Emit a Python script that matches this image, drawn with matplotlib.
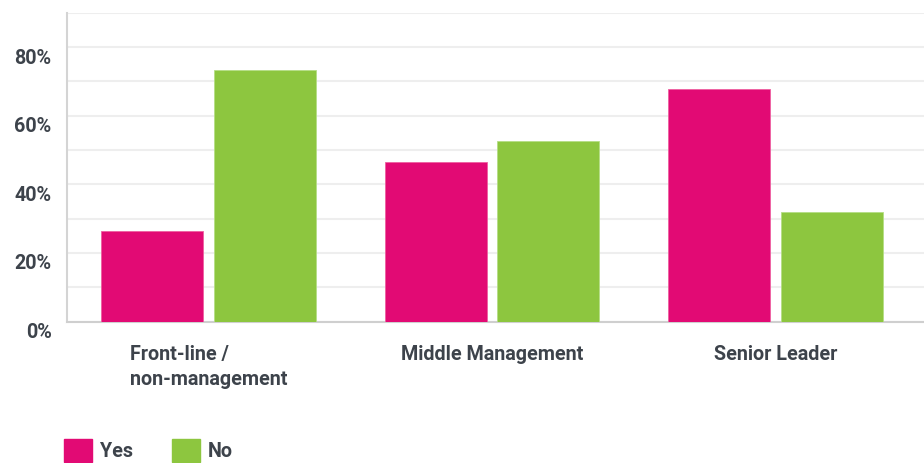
import matplotlib
matplotlib.use("Agg")
from matplotlib import pyplot as plt
from matplotlib.patches import Patch
from matplotlib.transforms import ScaledTranslation
import numpy as np

# survey answers by role (percent)
roles = ["Front-line /\nnon-management", "Middle Management", "Senior Leader"]
yes_pct = [26.3, 46.6, 67.7]
no_pct = [73.2, 52.7, 31.8]
series_names = ["Yes", "No"]
yticks = list(range(0, 91, 10))
ylabels = ["0%", "", "20%", "", "40%", "", "60%", "", "80%", ""]

pink = "#e20a74"
green = "#8dc63f"
textcol = "#3d434b"

plt.rcParams['font.family'] = ['Roboto', 'DejaVu Sans']

fig = plt.figure(figsize=(9.24, 4.63), dpi=100)
ax = fig.add_axes([67/924, (463-321.5)/463, (924-67)/924, (321.5-12.7)/463])

x = np.arange(len(roles))
w = 0.36
off = 0.199
ax.bar(x - off, yes_pct, w, color=pink, edgecolor="#ee5fa0", linewidth=0.6, zorder=3)
ax.bar(x + off, no_pct, w, color=green, edgecolor="#b5de85", linewidth=0.6, zorder=3)

ax.set_xlim(-0.5, 2.525)
ax.set_ylim(0, 90)
ax.set_yticks(yticks)
ax.set_yticklabels(ylabels)
ax.set_xticks(x)
ax.set_xticklabels(roles, multialignment='left', linespacing=1.4)
ax.grid(axis='y', color="#eeeeee", linewidth=1.5, zorder=0)
ax.tick_params(axis='y', length=0, pad=11, labelsize=14.2, labelcolor=textcol)
ax.tick_params(axis='x', length=0, pad=17, labelsize=14.2, labelcolor=textcol)
for lab in ax.get_yticklabels() + ax.get_xticklabels():
    lab.set_fontweight('bold')
for lab in ax.get_yticklabels():
    lab.set_transform(lab.get_transform() + ScaledTranslation(0, -9/100, fig.dpi_scale_trans))

for s in ['top', 'right']:
    ax.spines[s].set_visible(False)
ax.spines['left'].set_color("#d4d4d4")
ax.spines['left'].set_linewidth(1.5)
ax.spines['bottom'].set_color("#cfcfcf")
ax.spines['bottom'].set_linewidth(1.5)

handles = [Patch(facecolor=pink, edgecolor=pink), Patch(facecolor=green, edgecolor=green)]
leg = fig.legend(handles, series_names, loc='upper left', bbox_to_anchor=(64/924, 1 - 439/463),
                 ncol=2, frameon=False, fontsize=14.2, handlelength=1.4, handleheight=1.4,
                 handletextpad=0.4, columnspacing=2.0, borderpad=0, borderaxespad=0)
for t in leg.get_texts():
    t.set_color(textcol)
    t.set_fontweight('bold')

fig.savefig("out.png", dpi=100)
